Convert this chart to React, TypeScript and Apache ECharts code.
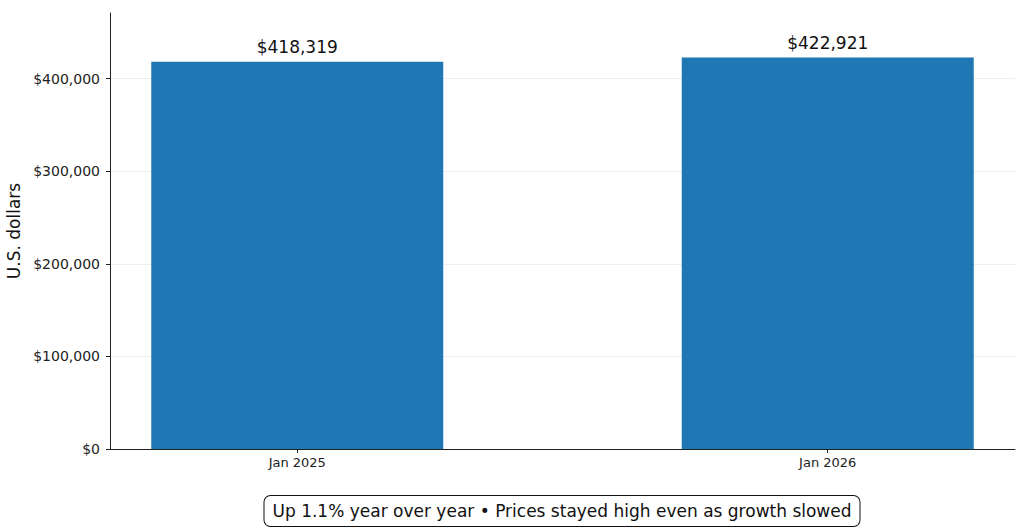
import React, { useEffect, useRef } from "react";
import * as echarts from "echarts";

const categories = ["Jan 2025", "Jan 2026"];
const values = [418319, 422921];
const yTicks = [0, 100000, 200000, 300000, 400000];
const yAxisTitle = "U.S. dollars";
const caption = "Up 1.1% year over year • Prices stayed high even as growth slowed";

const fmtDollar = (v: number) => "$" + Math.round(v).toLocaleString("en-US");

export default function App() {
  const ref = useRef<HTMLDivElement>(null);
  useEffect(() => {
    if (!ref.current) return;
    const chart = echarts.init(ref.current, undefined, { renderer: "svg" });
    const font = "DejaVu Sans";
    chart.setOption({
      animation: false,
      textStyle: { fontFamily: font },
      grid: { left: 110, right: 9, top: 13, bottom: 80, outerBoundsMode: "none", containLabel: false },
      xAxis: {
        type: "value",
        min: -0.353,
        max: 1.353,
        splitLine: { show: false },
        axisLine: { show: true, onZero: false, lineStyle: { color: "#222", width: 1 } },
        axisTick: { show: true, customValues: [0, 1], length: 4, lineStyle: { color: "#222" } },
        axisLabel: {
          customValues: [0, 1],
          formatter: (v: number) => categories[Math.round(v)] ?? "",
          color: "#222",
          fontSize: 13,
          margin: 7,
          fontFamily: font,
        },
      },
      yAxis: {
        type: "value",
        min: 0,
        max: 471000,
        name: yAxisTitle,
        nameLocation: "middle",
        nameGap: 85,
        nameTextStyle: { fontSize: 17, color: "#111", fontFamily: font },
        axisLine: { show: true, onZero: false, lineStyle: { color: "#222", width: 1 } },
        axisTick: { show: true, customValues: yTicks, length: 4, lineStyle: { color: "#222" } },
        axisLabel: {
          customValues: yTicks,
          formatter: (v: number) => fmtDollar(v),
          color: "#222",
          fontSize: 14,
          margin: 10,
          fontFamily: font,
        },
        splitLine: { show: true, lineStyle: { color: "#eeeeee", width: 1 } },
      },
      series: [
        {
          type: "bar",
          data: values.map((v, i) => [i, v]),
          barWidth: 292,
          itemStyle: { color: "#1f77b4" },
          label: {
            show: true,
            position: "top",
            distance: 6,
            formatter: (p: any) => fmtDollar(p.value[1]),
            fontSize: 17,
            color: "#111",
            fontFamily: font,
          },
        },
      ],
      graphic: [
        {
          type: "text",
          x: 562,
          y: 511,
          style: {
            text: caption,
            align: "center",
            verticalAlign: "middle",
            fontSize: 17,
            fill: "#111",
            fontFamily: font,
            backgroundColor: "#fff",
            borderColor: "#111",
            borderWidth: 1,
            borderRadius: 6,
            padding: [7, 8, 6, 8],
          },
        },
      ],
    });
    return () => chart.dispose();
  }, []);
  return <div ref={ref} style={{ width: 1024, height: 529, position: "absolute", left: 0, top: 0 }} />;
}
